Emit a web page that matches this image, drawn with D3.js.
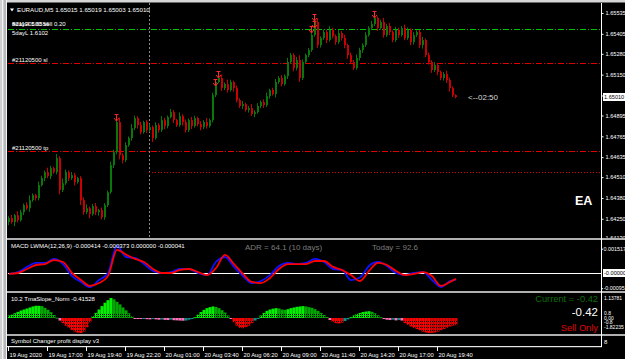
<!DOCTYPE html>
<html><head><meta charset="utf-8">
<script src="https://cdn.jsdelivr.net/npm/d3@7/dist/d3.min.js"></script>
<style>
body{margin:0;background:#000;overflow:hidden}
svg{display:block}
text{font-family:"Liberation Sans",Arial,sans-serif}
</style>
</head><body>
<svg id="c" width="625" height="359"></svg>
<script>
// ---------------- DATA ----------------
const symbolTitle = "EURAUD,M5  1.65015 1.65019 1.65003 1.65010";
const firstOpen = 1.64230;
const closes = [
 1.64254,1.64229,1.64272,1.64241,1.64291,1.64335,1.64316,1.64366,1.64397,1.64379,
 1.64460,1.64504,1.64541,1.64516,1.64566,1.64541,1.64629,1.64429,1.64472,1.64541,
 1.64504,1.64522,1.64479,1.64504,1.64366,1.64291,1.64316,1.64279,1.64329,1.64291,
 1.64304,1.64260,1.64335,1.64416,1.64585,1.64666,1.64854,1.64647,1.64616,1.64710,
 1.64754,1.64816,1.64879,1.64835,1.64791,1.64854,1.64804,1.64822,1.64754,1.64835,
 1.64804,1.64866,1.64829,1.64885,1.64916,1.64866,1.64835,1.64891,1.64854,1.64804,
 1.64866,1.64829,1.64879,1.64841,1.64822,1.64854,1.64829,1.64866,1.65022,1.65104,
 1.65129,1.65066,1.65091,1.65054,1.65104,1.65066,1.64991,1.64954,1.64966,1.64929,
 1.64941,1.64904,1.64916,1.64954,1.64979,1.64960,1.65016,1.65054,1.65029,1.65104,
 1.65129,1.65091,1.65141,1.65229,1.65272,1.65191,1.65241,1.65129,1.65229,1.65272,
 1.65304,1.65397,1.65479,1.65335,1.65379,1.65416,1.65366,1.65429,1.65391,1.65354,
 1.65410,1.65379,1.65335,1.65272,1.65229,1.65191,1.65254,1.65304,1.65335,1.65397,
 1.65441,1.65466,1.65504,1.65441,1.65479,1.65397,1.65454,1.65416,1.65366,1.65429,
 1.65397,1.65441,1.65379,1.65429,1.65354,1.65397,1.65416,1.65335,1.65366,1.65272,
 1.65229,1.65179,1.65210,1.65166,1.65129,1.65154,1.65116,1.65066,1.65022,1.65010];
// wick lengths in points (0.00001)
const wickUp = [
 12,20,8,25,15,10,18,30,12,8, 22,15,10,28,14,9,25,12,30,16,
 10,20,15,8,12,18,25,10,14,20, 8,16,12,10,22,15,30,28,12,18,
 10,25,16,12,20,8,14,22,10,18, 12,26,15,10,20,14,8,24,12,16,
 10,20,14,8,18,12,25,10,15,12, 18,22,10,28,14,8,16,12,20,10,
 14,24,12,18,10,16,22,8,14,20, 12,18,10,26,14,12,20,30,16,10,
 12,18,30,22,10,16,12,24,14,10, 18,12,20,8,16,12,22,14,10,18,
 12,20,22,10,14,26,12,18,10,20, 14,12,22,16,10,18,12,14,20,10,
 16,12,18,14,10,12,20,15,10,5];
const wickDn = [
 20,10,25,14,8,18,12,22,10,16, 14,8,20,12,18,10,14,26,12,10,
 18,12,22,10,30,16,12,24,10,18, 22,14,16,12,10,18,14,26,20,12,
 10,16,12,22,14,10,18,12,24,10, 16,12,20,14,8,18,12,10,22,16,
 12,18,10,14,20,12,16,10,14,12, 8,18,12,16,10,22,14,12,18,10,
 16,12,20,10,14,18,12,16,10,22, 12,14,10,18,12,20,14,24,12,10,
 14,12,10,18,16,12,20,10,14,18, 12,16,20,22,14,12,10,16,18,12,
 10,14,12,18,10,16,12,20,14,12, 18,10,14,12,20,16,12,18,22,14,
 16,18,12,20,14,16,18,22,12,8];
const priceTicks = [1.65535,1.65405,1.65280,1.65150,1.65020,1.64895,1.64765,1.64635,1.64510,1.64380,1.64250,1.64130];
const currentPrice = 1.65010;
const levelPrices = [1.65435,1.65223,1.64673];
const levelLabels = ["","#21120500 sl","#21120500 tp"];
const dottedPrice = 1.64542;
const infoTexts = ["#21120500 sell 0.20","5dayH 1.6556","5dayL 1.6102"];
const signalBars = [36,69,70,101,102,102,122];
const signalPrices = [1.64860,1.65079,1.65129,1.65410,1.65441,1.65485,1.65504];
const timerText = "<--02:50";

const macdLabel = "MACD LWMA(12,26,9) -0.000414 -0.000373 0.000000 -0.000041";
const adrText = "ADR = 64.1  (10 days)";
const todayText = "Today = 92.6";
const macdBars = [0,3,6,9,12,15,18,21,24,27,30,33,36,39,42,45,48,51,54,57,60,63,66,69,72,75,78,81,84,87,90,93,96,99,102,105,108,111,114,117,120,123,126,129,132,135,138,141,144,147,149];
const macdMain = [
 -0.00006,0.00006,0.00038,0.00063,0.00063,0.00088,0.00056,-0.00019,-0.00056,-0.00088,
 -0.00044,0.00000,0.00169,0.00100,0.00094,0.00056,0.00013,0.00000,0.00006,0.00025,
 0.00025,0.00000,-0.00013,0.00069,0.00100,0.00038,-0.00019,-0.00063,-0.00050,-0.00013,
 0.00044,0.00063,0.00056,0.00063,0.00088,0.00069,0.00025,0.00019,-0.00045,-0.00028,
 0.00044,0.00069,0.00044,0.00000,-0.00013,0.00000,0.00006,-0.00044,-0.00088,-0.00050,
 -0.00041];
const macdSignal = [
 -0.00006,0.00000,0.00025,0.00050,0.00056,0.00081,0.00069,0.00000,-0.00044,-0.00081,
 -0.00063,-0.00019,0.00145,0.00115,0.00088,0.00069,0.00025,0.00000,0.00000,0.00019,
 0.00025,0.00006,-0.00013,0.00031,0.00113,0.00056,-0.00006,-0.00056,-0.00063,-0.00031,
 0.00025,0.00056,0.00056,0.00056,0.00075,0.00075,0.00038,0.00019,-0.00013,-0.00050,
 0.00013,0.00063,0.00050,0.00013,-0.00013,-0.00006,0.00006,-0.00019,-0.00081,-0.00056,
 -0.00037];
const macdTicks = [0.001517,0,-0.00095];
const macdTickLabels = ["0.001517","-0.00000","-0.00095"];

const tmaLabel = "10.2 TmaSlope_Norm -0.41528";
const tmaSlope = [
 0.15,0.2,0.28,0.36,0.44,0.5,0.56,0.62,0.68,0.72,
 0.72,0.7,0.6,0.48,0.34,0.18,0.02,-0.15,-0.3,-0.45,
 -0.58,-0.7,-0.8,-0.86,-0.88,-0.8,-0.55,-0.25,0.1,0.3,
 0.5,0.7,0.9,1.05,1.18,1.1,0.95,0.8,0.62,0.45,
 0.28,0.1,-0.02,-0.04,-0.06,-0.05,-0.07,-0.08,-0.06,-0.08,
 -0.1,-0.09,-0.11,-0.12,-0.1,-0.13,-0.14,-0.15,-0.16,-0.15,
 -0.1,-0.04,0.05,0.2,0.35,0.48,0.58,0.64,0.68,0.65,
 0.58,0.46,0.32,0.15,-0.05,-0.25,-0.45,-0.58,-0.6,-0.55,
 -0.45,-0.3,-0.15,-0.05,0.15,0.3,0.42,0.5,0.55,0.58,
 0.56,0.5,0.48,0.52,0.58,0.62,0.66,0.68,0.7,0.68,
 0.64,0.6,0.52,0.42,0.3,0.18,0.06,-0.12,-0.22,-0.3,
 -0.32,-0.28,-0.18,-0.08,0.05,0.15,0.24,0.3,0.35,0.38,
 0.4,0.36,0.28,0.16,0.05,-0.05,-0.1,-0.12,-0.1,-0.14,
 -0.12,-0.15,-0.3,-0.4,-0.5,-0.58,-0.65,-0.72,-0.8,-0.85,
 -0.88,-0.88,-0.85,-0.8,-0.72,-0.65,-0.58,-0.5,-0.45,-0.42];
const tmaTickValues = [1.13781,0.8,0,-0.8,-1.82235];
const tmaTickLabels = ["1.13781","0.8","0.00","-0.8","-1.82235"];
const currentText = "Current = -0.42";
const currentValueText = "-0.42";
const tradeText = "Sell Only";
const symbolPanelText = "Symbol Changer profit display v3";
const symbolPanelTick = "8";

const timeTicks = ["2020-08-19T14:20","2020-08-19T17:00","2020-08-19T19:40","2020-08-19T22:20","2020-08-20T01:00","2020-08-20T03:40","2020-08-20T06:20","2020-08-20T09:00","2020-08-20T11:40","2020-08-20T14:20","2020-08-20T17:00","2020-08-20T19:40"];
const timeLabels = ["19 Aug 2020","19 Aug 17:00","19 Aug 19:40","19 Aug 22:20","20 Aug 01:00","20 Aug 03:40","20 Aug 06:20","20 Aug 09:00","20 Aug 11:40","20 Aug 14:20","20 Aug 17:00","20 Aug 19:40"];
const separatorTime = "2020-08-20T00:00";

// ---------------- LAYOUT ----------------
const W = 625, H = 359;
const L = 7, R = 601;
const mainTop = 3, mainBot = 238;
const macdTop = 240, macdBot = 291;
const tmaTop = 293, tmaBot = 334;
const symTop = 336, symBot = 346;

const svg = d3.select("#c");
svg.append("rect").attr("width", W).attr("height", H).attr("fill", "#000");
const defs = svg.append("defs");
[["mainClip", mainTop, mainBot], ["macdClip", macdTop, macdBot], ["tmaClip", tmaTop, tmaBot]].forEach(([id, t, b]) => {
  defs.append("clipPath").attr("id", id).append("rect").attr("x", L + 1).attr("y", t).attr("width", R - L - 1).attr("height", b - t);
});

// scales
const xB = d3.scaleLinear().domain([0, closes.length - 1]).range([9, 9 + (closes.length - 1) * 3]);
const xT = d3.scaleTime().domain([new Date(timeTicks[0]), new Date(timeTicks[timeTicks.length - 1])]).range([8, 437]);
const yP = d3.scaleLinear().domain([1.64130, 1.65535]).range([238, 13]);
const yM = d3.scaleLinear().domain([0, 0.001]).range([273, 257]);
const yT = d3.scaleLinear().domain([0, 1]).range([318, 301]);
const yTa = d3.scaleLinear().domain(tmaTickValues.slice().reverse()).range([327, 322, 317.5, 312.5, 298]);

// ---------------- MAIN PANEL ----------------
const main = svg.append("g").attr("clip-path", "url(#mainClip)");
const sepX = xT(new Date(separatorTime));
main.append("line").attr("x1", Math.round(sepX) + 0.5).attr("x2", Math.round(sepX) + 0.5)
  .attr("y1", mainTop).attr("y2", mainBot).attr("stroke", "#8a8a8a").attr("stroke-dasharray", "2,2");

const levelColors = ["#00c000", "#e00000", "#e00000"];
levelPrices.forEach((p, k) => {
  const y = Math.round(yP(p)) + 0.5;
  main.append("line").attr("x1", L + 1).attr("x2", R).attr("y1", y).attr("y2", y)
    .attr("stroke", levelColors[k]).attr("stroke-dasharray", "6,2,1,2");
  if (levelLabels[k]) main.append("text").attr("x", 12).attr("y", y - 2).attr("fill", "#fff")
    .attr("font-size", 6).text(levelLabels[k]);
});
{
  const y = Math.round(yP(dottedPrice)) + 0.5;
  main.append("line").attr("x1", Math.round(sepX)).attr("x2", R).attr("y1", y).attr("y2", y)
    .attr("stroke", "#e00000").attr("stroke-dasharray", "1,2");
}

const candles = closes.map((c, i) => {
  const o = i ? closes[i - 1] : firstOpen;
  return { i, o, c, h: Math.max(o, c) + wickUp[i] * 1e-5, l: Math.min(o, c) - wickDn[i] * 1e-5 };
});
const bullCol = "#08780a", bearCol = "#cc0000";
main.selectAll("line.wk").data(candles).join("line").attr("class", "wk")
  .attr("x1", d => xB(d.i) - 0.5).attr("x2", d => xB(d.i) - 0.5)
  .attr("y1", d => yP(d.h)).attr("y2", d => yP(d.l))
  .attr("stroke", d => d.c >= d.o ? bullCol : bearCol).attr("stroke-width", 1);
main.selectAll("rect.bd").data(candles).join("rect").attr("class", "bd")
  .attr("x", d => xB(d.i) - 1).attr("width", 2)
  .attr("y", d => Math.min(yP(d.o), yP(d.c)))
  .attr("height", d => Math.max(1, Math.abs(yP(d.o) - yP(d.c))))
  .attr("fill", d => d.c >= d.o ? bullCol : bearCol);

// fractal arrows
signalBars.forEach((b, k) => {
  const x = xB(b) - 0.5, y = yP(signalPrices[k]);
  main.append("path").attr("d", `M${x},${y - 6}V${y - 1}M${x - 2.5},${y - 3}L${x},${y}L${x + 2.5},${y - 3}M${x - 2},${y - 6.5}H${x + 2}`)
    .attr("stroke", "#ff2a2a").attr("stroke-width", 1).attr("fill", "none");
});

// texts in main
svg.append("path").attr("d", "M10,8.5H14L12,11.5Z").attr("fill", "#fff");
svg.append("text").attr("x", 17).attr("y", 12).attr("fill", "#fff").attr("font-size", 6.2).text(symbolTitle);
svg.append("text").attr("x", 12).attr("y", 26).attr("fill", "#fff").attr("font-size", 6).text(infoTexts[0]);
svg.append("text").attr("x", 12).attr("y", 26).attr("fill", "#fff").attr("font-size", 6).text(infoTexts[1]);
svg.append("text").attr("x", 12).attr("y", 34.5).attr("fill", "#fff").attr("font-size", 6).text(infoTexts[2]);
svg.append("text").attr("x", xB(closes.length - 1) + 12).attr("y", yP(currentPrice) + 3)
  .attr("fill", "#d8d8d8").attr("font-size", 8).attr("font-family", "Liberation Mono, monospace").text(timerText);
svg.append("text").attr("x", 575).attr("y", 204.5).attr("fill", "#fff").attr("font-size", 12.5)
  .attr("font-weight", "bold").text("EA");

// price axis
const pAxis = svg.append("g").attr("transform", `translate(${R + 0.5},0)`)
  .call(d3.axisRight(yP).tickValues(priceTicks).tickSize(2).tickPadding(2).tickFormat(d3.format(".5f")));
pAxis.select(".domain").remove();
pAxis.selectAll("line").attr("stroke", "#fff");
pAxis.selectAll("text").attr("fill", "#fff").attr("font-size", 5.6).attr("font-family", "Liberation Sans, Arial, sans-serif");
{
  const y = Math.round(yP(currentPrice));
  svg.append("rect").attr("x", 603).attr("y", y - 4).attr("width", 22).attr("height", 8).attr("fill", "#fff");
  svg.append("text").attr("x", 604).attr("y", y + 2).attr("fill", "#000").attr("font-size", 5.6).text(d3.format(".5f")(currentPrice));
}

// ---------------- MACD PANEL ----------------
const macdG = svg.append("g").attr("clip-path", "url(#macdClip)");
macdG.append("line").attr("x1", L + 1).attr("x2", R).attr("y1", yM(0) + 0.5).attr("y2", yM(0) + 0.5).attr("stroke", "#fff");
const mLine = arr => d3.line().x((d, k) => xB(macdBars[k])).y(d => yM(d)).curve(d3.curveMonotoneX)(arr);
macdG.append("path").attr("d", mLine(macdMain)).attr("stroke", "#1010ff").attr("stroke-width", 1.8).attr("fill", "none");
macdG.append("path").attr("d", mLine(macdSignal)).attr("stroke", "#ff0000").attr("stroke-width", 1.8).attr("fill", "none");
svg.append("text").attr("x", 11).attr("y", 248).attr("fill", "#fff").attr("font-size", 6).text(macdLabel);
svg.append("text").attr("x", 245).attr("y", 250).attr("fill", "#7c7c7c").attr("font-size", 8)
  .attr("font-family", "Liberation Mono, monospace").text(adrText);
svg.append("text").attr("x", 372).attr("y", 250).attr("fill", "#7c7c7c").attr("font-size", 8)
  .attr("font-family", "Liberation Mono, monospace").text(todayText);
macdTicks.forEach((v, k) => {
  const y = Math.max(yM(v), 245);
  if (v === 0) {
    svg.append("rect").attr("x", 603).attr("y", y - 4).attr("width", 22).attr("height", 8).attr("fill", "#fff");
    svg.append("text").attr("x", 604).attr("y", y + 2).attr("fill", "#000").attr("font-size", 5.6).text(macdTickLabels[k]);
  } else {
    svg.append("line").attr("x1", R).attr("x2", R + 2).attr("y1", y + 0.5).attr("y2", y + 0.5).attr("stroke", "#fff");
    svg.append("text").attr("x", 603.5).attr("y", y + 2).attr("fill", "#fff").attr("font-size", 5.4).text(macdTickLabels[k]);
  }
});

// ---------------- TMA PANEL ----------------
const tmaG = svg.append("g").attr("clip-path", "url(#tmaClip)");
const tmaColor = (v, i) => {
  const p = i ? tmaSlope[i - 1] : v;
  const rising = v >= p;
  if (v >= 0) return rising ? "#00f000" : "#00a800";
  if (v > -0.2) return rising ? "#108c8c" : "#ff70b8";
  return rising ? "#e00000" : "#ff0000";
};
tmaG.selectAll("rect.h").data(tmaSlope).join("rect").attr("class", "h")
  .attr("x", (d, i) => xB(i) - 1.5).attr("width", 3)
  .attr("y", d => Math.min(yT(d), yT(0)))
  .attr("height", d => Math.max(1, Math.abs(yT(d) - yT(0))))
  .attr("fill", (d, i) => tmaColor(d, i));
[314.5, 316.5, 321.5, 324.5, 327.5, 330.5].forEach(y => {
  tmaG.append("line").attr("x1", L + 1).attr("x2", R).attr("y1", y).attr("y2", y)
    .attr("stroke", "#000").attr("stroke-dasharray", "1,1");
});
svg.append("text").attr("x", 11).attr("y", 301).attr("fill", "#fff").attr("font-size", 6).text(tmaLabel);
svg.append("text").attr("x", 598).attr("y", 301.5).attr("text-anchor", "end").attr("fill", "#0c6e0c").attr("font-size", 9.3).text(currentText);
svg.append("text").attr("x", 598).attr("y", 316).attr("text-anchor", "end").attr("fill", "#fff").attr("font-size", 11.5).text(currentValueText);
svg.append("text").attr("x", 598).attr("y", 330.5).attr("text-anchor", "end").attr("fill", "#e00000").attr("font-size", 9.3).text(tradeText);
tmaTickValues.forEach((v, k) => {
  svg.append("text").attr("x", 604).attr("y", yTa(v) + 2).attr("fill", "#fff").attr("font-size", 5).text(tmaTickLabels[k]);
});

// ---------------- SYMBOL PANEL ----------------
svg.append("text").attr("x", 11).attr("y", 343).attr("fill", "#fff").attr("font-size", 6).text(symbolPanelText);
svg.append("text").attr("x", 604).attr("y", 344).attr("fill", "#fff").attr("font-size", 6).text(symbolPanelTick);

// ---------------- FRAME & SEPARATORS ----------------
[[mainBot, macdTop], [macdBot, tmaTop], [tmaBot, symTop]].forEach(([a, b]) => {
  svg.append("rect").attr("x", L).attr("y", a).attr("width", W - L).attr("height", b - a).attr("fill", "#b0b0b0");
});
svg.append("rect").attr("x", L).attr("y", symBot).attr("width", R - L + 1).attr("height", 1.2).attr("fill", "#e8e8e8");
svg.append("line").attr("x1", R + 0.5).attr("x2", R + 0.5).attr("y1", mainTop).attr("y2", symBot + 1).attr("stroke", "#fff");
svg.append("rect").attr("x", 0).attr("y", 0).attr("width", W).attr("height", 2.5).attr("fill", "#d6d6d6");
svg.append("rect").attr("x", 0).attr("y", 0).attr("width", 7).attr("height", H).attr("fill", "#cfcfcf");
svg.append("line").attr("x1", 2.5).attr("x2", 2.5).attr("y1", 0).attr("y2", H).attr("stroke", "#f2f2f2");
svg.append("line").attr("x1", 5).attr("x2", 5).attr("y1", 0).attr("y2", H).attr("stroke", "#9aa0aa");
svg.append("line").attr("x1", 6.5).attr("x2", 6.5).attr("y1", 0).attr("y2", H).attr("stroke", "#f4f4f4");

// ---------------- TIME AXIS ----------------
timeTicks.forEach((t, k) => {
  const x = Math.round(xT(new Date(t))) + 0.5;
  svg.append("line").attr("x1", x).attr("x2", x).attr("y1", symBot + 1).attr("y2", symBot + 5).attr("stroke", "#fff");
  svg.append("text").attr("x", x + 1).attr("y", 356.5).attr("fill", "#fff").attr("font-size", 5.8).text(timeLabels[k]);
});
</script>
</body></html>
